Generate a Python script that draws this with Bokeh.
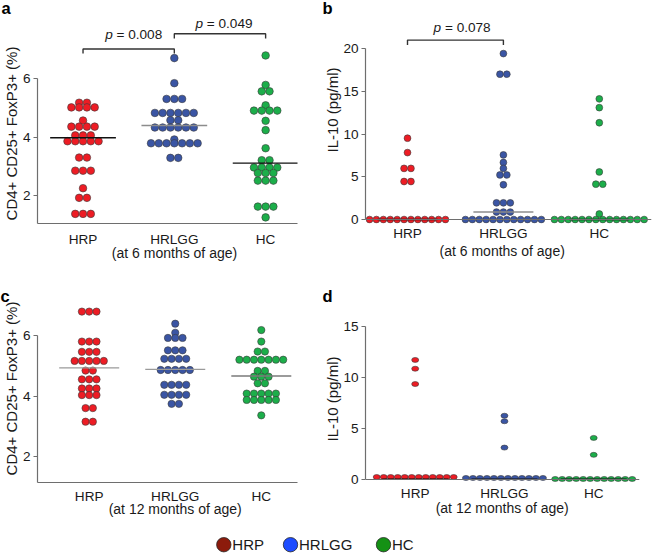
import numpy as np
from bokeh.plotting import figure
from bokeh.layouts import column, row
from bokeh.models import Range1d, LinearAxis, FixedTicker, Title, ColumnDataSource
from bokeh.core.properties import value, field
from bokeh.embed import file_html
from bokeh.resources import INLINE

FONT = "Liberation Sans"
TXT = "#1a1a1a"
AXIS = "#6e6e6e"
OUT = "#3a3a3a"

# ---------------- data ----------------
groups = ["HRP", "HRLGG", "HC"]
group_pos = [1, 2, 3]
dot_colors = ["#ED1C24", "#3A55A4", "#1CAE4A"]
legend_colors = ["#8C1B0C", "#1E4DFF", "#149114"]

# a: CD4+ CD25+ FoxP3+ (%) at 6 months
a_hrp = [5.18, 5.18, 5.02, 5.02, 5.02, 5.02, 4.57, 4.36, 4.36, 4.36, 4.36,
         4.06, 4.06, 4.06, 3.86, 3.86, 3.86, 3.86, 3.86, 3.30, 3.30,
         2.85, 2.85, 2.85, 2.25, 1.92, 1.92, 1.37, 1.37, 1.37]
a_hrlgg = [6.71, 5.85, 5.31, 5.31, 5.31, 4.83, 4.83, 4.83, 4.83, 4.83, 4.83,
           4.58, 4.58, 4.33, 4.33, 4.33, 4.33, 4.33, 4.33, 3.92,
           3.79, 3.79, 3.79, 3.79, 3.79, 3.79, 3.79, 3.29, 3.29]
a_hc = [6.80, 5.79, 5.57, 5.57, 5.09, 4.91, 4.91, 4.91, 4.91, 4.56, 4.24, 3.62,
        3.21, 3.21, 2.96, 2.96, 2.96, 2.96, 2.77, 2.77, 2.77, 2.51, 2.51, 2.51,
        1.62, 1.62, 1.62, 1.25]
a_med = [3.98, 4.40, 3.11]
a_pairs = [(1, 2), (2, 3)]
a_pvals = ["0.008", "0.049"]

# b: IL-10 (pg/ml) at 6 months
b_hrp = [9.54, 7.85, 6.00, 6.00, 4.46, 4.46,
         0, 0, 0, 0, 0, 0, 0, 0, 0, 0, 0, 0]
b_hrlgg = [19.46, 17.04, 17.04, 7.58, 6.69, 6.00, 5.23, 5.23, 4.08,
           1.96, 1.96, 1.96, 0.88, 0.88, 0.88,
           0, 0, 0, 0, 0, 0, 0, 0, 0, 0, 0, 0]
b_hc = [14.15, 13.12, 11.35, 5.58, 4.15, 4.15, 0.65,
        0, 0, 0, 0, 0, 0, 0, 0, 0, 0, 0, 0, 0, 0]
b_med = [0.0, 0.88, 0.0]
b_pairs = [(1, 2)]
b_pvals = ["0.078"]

# c: CD4+ CD25+ FoxP3+ (%) at 12 months
c_hrp = [6.79, 6.79, 6.79, 5.80, 5.80, 5.80, 5.46, 5.46, 5.46,
         5.16, 5.16, 5.16, 5.16, 5.16, 4.84, 4.84, 4.55, 4.55, 4.55,
         4.25, 4.25, 4.25, 4.03, 4.03, 4.03, 3.60, 3.60, 3.15, 3.15]
c_hrlgg = [6.39, 6.09, 5.92, 5.92, 5.92, 5.51, 5.51, 5.51, 5.23, 5.23, 5.23, 5.23,
           4.86, 4.86, 4.86, 4.86, 4.86, 4.37, 4.37, 4.37, 4.37,
           4.04, 4.04, 4.04, 4.04, 3.74, 3.74]
c_hc = [6.18, 5.80, 5.47, 5.47, 5.20, 5.20, 5.20, 5.20, 5.20, 5.20, 5.20,
        4.83, 4.83, 4.64, 4.64, 4.64, 4.42, 4.42,
        4.08, 4.08, 4.08, 4.08, 4.08, 3.87, 3.87, 3.87, 3.87, 3.87, 3.36]
c_med = [4.93, 4.88, 4.66]

# d: IL-10 (pg/ml) at 12 months
d_hrp = [11.68, 10.82, 9.32,
         0.22, 0.22, 0.22, 0.22, 0.22, 0.22, 0.22, 0.22, 0.22, 0.22, 0.22, 0.22]
d_hrlgg = [6.22, 5.68, 3.10,
           0.13, 0.13, 0.13, 0.13, 0.13, 0.13, 0.13, 0.13, 0.13, 0.13, 0.13, 0.13]
d_hc = [4.05, 2.39,
        0.03, 0.03, 0.03, 0.03, 0.03, 0.03, 0.03, 0.03, 0.03, 0.03, 0.03, 0.03]
d_med = [0.0, 0.0, 0.0]

# ---------------- layout helpers ----------------
# Arial / Liberation Sans advance widths (em)
CW = {"p": .556, " ": .278, "=": .584, ".": .278, "(": .333, ")": .333,
      "t": .278, "m": .833, "s": .5, "f": .278, "C": .722, "D": .722,
      "+": .584, "F": .611, "x": .5, "P": .667, "%": .889, "I": .278,
      "L": .556, "-": .333, "/": .278, "l": .222}
def text_w(s, fs):
    return sum(CW.get(ch, .556) for ch in s) * fs


def swarm(vals, center, step):
    counts = {}
    for v in vals:
        counts[v] = counts.get(v, 0) + 1
    seen = {}
    xs = []
    for v in vals:
        n = counts[v]
        i = seen.get(v, 0)
        seen[v] = i + 1
        xs.append(center + (i - (n - 1) / 2) * step)
    return xs


def rnd(v):
    return int(v + 0.5)


SPLIT = 312
TOP_H = 270
BOT_H = 253
LEG_H = 553 - TOP_H - BOT_H
YLAB_FS = 15
XLAB_FS = 14

panels = [
    dict(fig=(0, 0, SPLIT, TOP_H), frame=(35.5, 297, 12, 223.3),
         xcal=((81.7, 1), (265.0, 3)), ycal=((78.3, 6), (195.0, 2)),
         data=[a_hrp, a_hrlgg, a_hc], med=a_med,
         med_colors=["#111111", "#8c8c8c", "#111111"], med_half=33,
         shape="circle", size=7.6, step=7.8,
         yticks=[2, 4, 6], ytop=6, fixed=False, xstand=8, spacer=4,
         ylabel="CD4+ CD25+ FoxP3+ (%)", ylab_c=133,
         xlabel="(at 6 months of age)", xlab_c=173, xtitle_st=-9,
         letter="a", letter_x=0, letter_st=-9,
         pairs=a_pairs, pvals=a_pvals,
         bpos=[(48.5, 53.0, 33.5, 5.0), (33.3, 38.0, 23.0, 4.0)]),
    dict(fig=(SPLIT, 0, 653 - SPLIT, TOP_H), frame=(365, 651, 12, 226),
         xcal=((407.0, 1), (598.8, 3)), ycal=((222.0, 0), (49.0, 20)),
         data=[b_hrp, b_hrlgg, b_hc], med=b_med,
         med_colors=["#111111", "#8c8c8c", "#111111"], med_half=30,
         shape="circle", size=6.8, step=6.9,
         yticks=[0, 5, 10, 15, 20], ytop=20, fixed=True, xstand=2, spacer=7,
         ylabel="IL-10 (pg/ml)", ylab_c=112.5,
         xlabel="(at 6 months of age)", xlab_c=501.7, xtitle_st=-2,
         letter="b", letter_x=322, letter_st=-9,
         pairs=b_pairs, pvals=b_pvals,
         bpos=[(40.0, 45.0, 27.5, 6.7)]),
    dict(fig=(0, TOP_H, SPLIT, BOT_H), frame=(37, 297, 303.5, 482),
         xcal=((88.7, 1), (260.8, 3)), ycal=((335.0, 6), (456.0, 2)),
         data=[c_hrp, c_hrlgg, c_hc], med=c_med,
         med_colors=["#9a9a9a", "#9a9a9a", "#7a7a7a"], med_half=30,
         shape="circle", size=7.3, step=7.3,
         yticks=[2, 4, 6], ytop=6, fixed=False, xstand=5.5, spacer=5,
         ylabel="CD4+ CD25+ FoxP3+ (%)", ylab_c=388,
         xlabel="(at 12 months of age)", xlab_c=174.7, xtitle_st=-11,
         letter="c", letter_x=0, letter_st=0,
         pairs=[], pvals=[], bpos=[]),
    dict(fig=(SPLIT, TOP_H, 653 - SPLIT, BOT_H), frame=(364.5, 639, 303.5, 486),
         xcal=((414.7, 1), (593.2, 3)), ycal=((482.7, 0), (326.0, 15)),
         data=[d_hrp, d_hrlgg, d_hc], med=d_med,
         med_colors=["#111111", "#111111", "#111111"], med_half=33,
         shape="ellipse", size=(7.0, 5.0), step=7.0,
         yticks=[0, 5, 10, 15], ytop=15, fixed=True, xstand=3, spacer=7,
         ylabel="IL-10 (pg/ml)", ylab_c=402.5,
         xlabel="(at 12 months of age)", xlab_c=501.7, xtitle_st=-7,
         letter="d", letter_x=322, letter_st=0,
         pairs=[], pvals=[], bpos=[]),
]


def style_labels(ax):
    ax.major_label_text_font = FONT
    ax.major_label_text_font_size = "13.6px"
    ax.major_label_text_color = TXT


def build(c):
    fx, fy, fw, fh = c["fig"]
    rl, rr, rt, rb = c["frame"]
    L = rnd(rl) - fx
    R = rnd(rr) - fx
    T = rnd(rt) - fy
    B = rnd(rb) - fy
    (px1, v1), (px2, v2) = c["xcal"]
    (py1, w1), (py2, w2) = c["ycal"]
    kx = (v2 - v1) / (px2 - px1)
    ky = (w2 - w1) / (py2 - py1)
    xv = lambda px: v1 + (px - px1) * kx
    yv = lambda py: w1 + (py - py1) * ky
    xr = Range1d(xv(L + fx), xv(R + fx))
    yr = Range1d(yv(B + fy), yv(T + fy))
    p = figure(width=fw, height=fh, x_range=xr, y_range=yr,
               output_backend="svg", toolbar_location=None,
               min_border_left=L, min_border_right=fw - R,
               min_border_top=T, min_border_bottom=fh - B,
               x_axis_type=None, y_axis_type=None)
    p.outline_line_color = None
    p.background_fill_color = "white"
    p.border_fill_color = "white"

    # dots
    xs, ys, cs = [], [], []
    for i, vals in enumerate(c["data"]):
        xs += swarm(vals, group_pos[i], c["step"] * abs(kx))
        ys += list(vals)
        cs += [dot_colors[i]] * len(vals)
    src = ColumnDataSource(dict(x=xs, y=ys, c=cs))
    if c["shape"] == "circle":
        p.scatter("x", "y", source=src, size=c["size"], marker="circle",
                  fill_color=field("c"), line_color=OUT, line_width=0.6)
    else:
        p.ellipse("x", "y", source=src, width=c["size"][0], height=c["size"][1],
                  width_units="screen", height_units="screen",
                  fill_color=field("c"), line_color=OUT, line_width=0.6)

    # medians
    hw = c["med_half"] * abs(kx)
    p.segment(x0=[g - hw for g in group_pos], x1=[g + hw for g in group_pos],
              y0=c["med"], y1=c["med"], line_color=c["med_colors"], line_width=1.4)

    # brackets + p values
    fs = 13.6
    for (i, j), pv, (ytop, yleg, ymid, shift) in zip(c["pairs"], c["pvals"], c["bpos"]):
        p.line(x=[i, i, j, j], y=[yv(yleg), yv(ytop), yv(ytop), yv(yleg)],
               line_color="#333333", line_width=1.4)
        pw = text_w("p ", fs)
        rest = "= " + pv
        tot = pw + text_w(rest, fs)
        xc = (i + j) / 2
        p.text(x=[xc], y=[yv(ymid)], text=["p"], x_offset=-tot / 2 + shift,
               text_font=value(FONT), text_font_style="italic", text_font_size=f"{fs}px",
               text_align="left", text_baseline="middle", text_color=TXT)
        p.text(x=[xc], y=[yv(ymid)], text=[rest], x_offset=-tot / 2 + shift + pw,
               text_font=value(FONT), text_font_size=f"{fs}px",
               text_align="left", text_baseline="middle", text_color=TXT)

    # x axis
    overrides = {g: n for g, n in zip(group_pos, groups)}
    if c["fixed"]:
        # axis line at y = 0, inside the frame
        xl = LinearAxis(ticker=FixedTicker(ticks=[]), fixed_location=0,
                        major_tick_out=0, major_tick_in=0, minor_tick_out=0,
                        minor_tick_in=0, major_label_standoff=0)
        xl.axis_line_color = AXIS
        xl.axis_line_width = 1.2
        p.add_layout(xl, "below")
        # category labels just under the frame
        xa = LinearAxis(ticker=FixedTicker(ticks=group_pos), major_label_overrides=overrides,
                        major_tick_out=0, major_tick_in=0, minor_tick_out=0, minor_tick_in=0,
                        major_label_standoff=rnd(c["xstand"]))
        xa.axis_line_color = None
        style_labels(xa)
        p.add_layout(xa, "below")
    else:
        xa = LinearAxis(ticker=FixedTicker(ticks=group_pos), major_label_overrides=overrides,
                        major_tick_out=0, major_tick_in=0, minor_tick_out=0, minor_tick_in=0,
                        major_label_standoff=rnd(c["xstand"]))
        xa.axis_line_color = AXIS
        xa.axis_line_width = 1.2
        style_labels(xa)
        p.add_layout(xa, "below")

    # y axis
    ya = LinearAxis(ticker=FixedTicker(ticks=c["yticks"]),
                    bounds=(0 if c["fixed"] else yr.start, c["ytop"]))
    ya.major_tick_out = 4
    ya.major_tick_in = 0
    ya.minor_tick_out = 0
    ya.minor_tick_in = 0
    ya.major_label_standoff = 3
    style_labels(ya)
    ya.axis_line_color = AXIS
    ya.axis_line_width = 1.2
    ya.major_tick_line_color = AXIS
    ya.major_tick_line_width = 1.2
    p.add_layout(ya, "left")

    # spacer between tick labels and the y-axis title
    sp = LinearAxis(ticker=FixedTicker(ticks=[]), axis_line_color=None,
                    major_tick_out=int(c["spacer"]), major_tick_in=0,
                    minor_tick_out=0, minor_tick_in=0, major_label_standoff=0)
    p.add_layout(sp, "left")

    # y-axis title: left-aligned (starts at the bottom), placed so that its
    # centre falls where the reference has it
    ylen = text_w(c["ylabel"], YLAB_FS)
    frame_bottom = B + fy
    p.add_layout(Title(text=c["ylabel"], align="left",
                       offset=frame_bottom - (c["ylab_c"] + ylen / 2),
                       standoff=0, vertical_align="bottom",
                       text_font=FONT, text_font_size=f"{YLAB_FS}px",
                       text_font_style="normal", text_color=TXT), "left")

    # x-axis title: left-aligned, start placed so the centre matches
    xlen = text_w(c["xlabel"], XLAB_FS)
    frame_left = L + fx
    p.add_layout(Title(text=c["xlabel"], align="left",
                       offset=(c["xlab_c"] - xlen / 2) - frame_left,
                       standoff=c["xtitle_st"], vertical_align="top",
                       text_font=FONT, text_font_size=f"{XLAB_FS}px",
                       text_font_style="normal", text_color=TXT), "below")

    # panel letter
    p.title.text = c["letter"]
    p.title.align = "left"
    p.title.offset = c["letter_x"] - (L + fx)
    p.title.standoff = c["letter_st"]
    p.title.vertical_align = "bottom"
    p.title.text_font = FONT
    p.title.text_font_size = "16.5px"
    p.title.text_font_style = "bold"
    p.title.text_color = "#000000"
    return p


figs = [build(c) for c in panels]

# legend strip
legend_x = [223.3, 290.0, 383.0]
legend_y = 544.2
lg = figure(width=653, height=LEG_H, x_range=Range1d(0, 653),
            y_range=Range1d(553, 553 - LEG_H),
            output_backend="svg", toolbar_location=None, min_border=0,
            x_axis_type=None, y_axis_type=None)
lg.outline_line_color = None
lg.scatter(x=legend_x, y=[legend_y] * 3, size=14.4, marker="circle",
           fill_color=legend_colors, line_color="#2a2a2a", line_width=0.8)
lg.text(x=[x + 8.5 for x in legend_x], y=[544.4] * 3, text=groups,
        text_font=value(FONT), text_font_size="15px", text_align="left",
        text_baseline="middle", text_color=TXT)

layout = column(row(figs[0], figs[1]), row(figs[2], figs[3]), lg)
open("out.html", "w").write(file_html(layout, INLINE, title="chart"))
